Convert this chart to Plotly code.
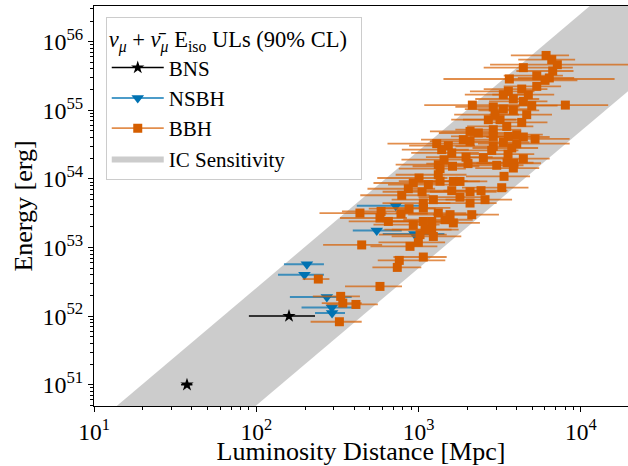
import plotly.graph_objects as go

# ---------------- data ----------------
bns_dist = [37.4, 159]
bns_err_lo = [3, 69]
bns_err_hi = [3, 71]
bns_energy = [1.0e51, 1.0e52]

nsbh_dist = [723, 552, 942, 205, 198, 272, 292, 293]
nsbh_err_lo = [307, 159, 341, 57, 62, 111, 102, 63]
nsbh_err_hi = [420, 235, 500, 56, 63, 115, 143, 59]
nsbh_energy = [4.06e53, 1.77e53, 1.57e53, 5.68e52, 4.0e52, 1.9e52, 1.34e52, 1.11e52]

bbh_dist = [
    6100, 6610, 7155, 4417, 6700, 5345, 6386, 6010, 3622, 5345,
    4318, 3571, 3326, 4743, 3833, 4417, 4977, 8017, 2143, 2884,
    3326, 3833, 4634, 2956, 2688, 3174, 4318, 3490, 2884, 2074,
    2333, 4022, 2884, 3571, 4417, 5214, 1885, 2074, 3326, 4022,
    1293, 1524, 2884, 3748, 1388, 2821, 1600, 3556, 4417, 1959,
    2505, 1434, 3506, 3871, 1322, 2015, 3028, 1618, 1355, 3833,
    1322, 3359, 1006, 1636, 1799, 1355, 927, 1148, 3251, 864,
    1050, 1600, 2424, 2074, 787, 1799, 2565, 2074, 1232, 1069,
    587, 779, 873, 1069, 1322, 1562, 2125, 651, 578, 435,
    927, 1069, 1204, 1455, 1636, 1095, 1204, 1232, 1020, 996,
    885, 1069, 760, 739, 578, 446, 241, 331, 341, 411, 325,
]
bbh_err_lo = [
    2400, 2500, 4400, 1900, 2700, 2000, 2300, 2500, 2200, 2000,
    1800, 1500, 1400, 1900, 1600, 1700, 2000, 3200, 1060, 1200,
    1400, 1500, 1900, 1300, 1100, 1300, 1700, 1500, 1200, 900,
    1000, 1600, 1300, 1500, 1800, 2000, 850, 900, 1400, 1700,
    650, 650, 1200, 1600, 600, 1200, 700, 1500, 1800, 850,
    1100, 650, 1500, 1600, 600, 900, 1300, 700, 600, 1600,
    600, 1400, 450, 700, 800, 600, 400, 500, 1400, 380,
    450, 700, 1000, 900, 350, 800, 1100, 900, 550, 470,
    250, 340, 380, 470, 600, 700, 900, 280, 250, 190,
    400, 470, 520, 650, 700, 480, 520, 550, 450, 430,
    380, 370, 200, 220, 226, 188, 48, 108, 88, 140, 109,
]
bbh_err_hi = [
    2350, 2600, 14000, 4500, 2300, 2400, 2700, 3500, 12500, 2200,
    1900, 1600, 1500, 2100, 1700, 1800, 2200, 6700, 2900, 1300,
    1500, 1700, 2000, 1200, 1300, 1400, 1900, 1600, 1400, 950,
    1100, 1800, 1400, 1600, 2000, 3300, 900, 1000, 1500, 4500,
    900, 700, 1300, 1700, 650, 1300, 750, 1600, 2000, 900,
    1200, 700, 1600, 1800, 650, 950, 1400, 750, 600, 1700,
    650, 1500, 500, 750, 850, 650, 420, 550, 1500, 400,
    500, 750, 1100, 950, 380, 850, 1200, 950, 600, 500,
    270, 360, 400, 500, 650, 750, 1000, 300, 270, 200,
    420, 500, 560, 700, 750, 500, 560, 600, 470, 460,
    420, 420, 700, 300, 212, 150, 41, 104, 105, 150, 121,
]
bbh_energy = [
    6.3e55, 5.47e55, 4.62e55, 4.18e55, 3.74e55, 3.19e55, 2.96e55, 2.73e55, 2.86e55, 2.23e55,
    2.04e55, 1.89e55, 1.69e55, 1.69e55, 1.46e55, 1.35e55, 1.17e55, 1.19e55, 1.19e55, 1.12e55,
    1.04e55, 9.97e54, 8.63e54, 8.63e54, 7.29e54, 7.29e54, 6.66e54, 5.82e54, 5.21e54, 4.92e54,
    4.67e54, 4.41e54, 4.16e54, 4.16e54, 4.08e54, 3.82e54, 3.73e54, 3.52e54, 3.40e54, 3.26e54,
    3.26e54, 3.05e54, 2.98e54, 2.82e54, 2.67e54, 2.60e54, 2.39e54, 2.29e54, 1.97e54, 2.07e54,
    2.04e54, 1.905e54, 1.72e54, 1.69e54, 1.61e54, 1.67e54, 1.58e54, 1.53e54, 1.41e54, 1.44e54,
    1.15e54, 1.09e54, 1.03e54, 9.19e53, 9.19e53, 9.25e53, 8.71e53, 8.23e53, 7.44e53, 7.19e53,
    6.50e53, 6.73e53, 6.73e53, 6.50e53, 5.78e53, 5.41e53, 4.98e53, 4.45e53, 4.98e53, 4.45e53,
    3.36e53, 3.11e53, 3.68e53, 3.77e53, 3.18e53, 3.01e53, 3.01e53, 2.40e53, 2.69e53, 3.18e53,
    2.15e53, 2.40e53, 2.40e53, 2.54e53, 2.28e53, 1.82e53, 1.82e53, 1.45e53, 1.54e53, 1.19e53,
    1.04e53, 7.27e52, 6.49e52, 5.13e52, 2.71e52, 1.09e53, 3.47e52, 1.94e52, 1.55e52, 1.48e52, 8.28e51,
]

# IceCube sensitivity band (edges at the axis limits)
band_dist = [10, 20000]
band_upper = [2.57e50, 1.03e57]
band_lower = [5.0e48, 2.0e55]

x_tickvals = [1e1, 1e2, 1e3, 1e4]
x_ticktext = ["10<sup>1</sup>", "10<sup>2</sup>", "10<sup>3</sup>", "10<sup>4</sup>"]
y_tickvals = [1e51, 1e52, 1e53, 1e54, 1e55, 1e56]
y_ticktext = ["10<sup>51</sup>", "10<sup>52</sup>", "10<sup>53</sup>",
              "10<sup>54</sup>", "10<sup>55</sup>", "10<sup>56</sup>"]

# ---------------- style ----------------
FONT = "'Liberation Serif', 'Times New Roman', 'DejaVu Serif', serif"
BLACK = "#000000"
BLUE = "#0072B2"
BLUE_EB = "rgba(0,114,178,0.7)"
ORANGE = "#D55E00"
ORANGE_EB = "rgba(213,94,0,0.7)"
GRAY = "#cccccc"

fig = go.Figure()

# sensitivity band
fig.add_trace(go.Scatter(
    x=band_dist + band_dist[::-1],
    y=band_upper + band_lower[::-1],
    mode="lines", fill="toself", fillcolor=GRAY,
    line=dict(width=0, color=GRAY),
    name="IC Sensitivity", legendrank=4, hoverinfo="skip",
))

def add_series(dist, energy, lo, hi, color, ebcolor, symbol, size, name, rank, ebw):
    fig.add_trace(go.Scatter(
        x=dist, y=energy, mode="markers",
        marker=dict(symbol=symbol, size=size, color=color, line=dict(width=0)),
        error_x=dict(type="data", symmetric=False, array=hi, arrayminus=lo,
                     color=ebcolor, thickness=ebw, width=0),
        showlegend=False, name=name,
    ))
    fig.add_trace(go.Scatter(
        x=[None], y=[None], mode="lines+markers",
        marker=dict(symbol=symbol, size=size, color=color, line=dict(width=0)),
        line=dict(color=ebcolor, width=ebw),
        name=name, legendrank=rank,
    ))

add_series(bns_dist, bns_energy, bns_err_lo, bns_err_hi, BLACK, BLACK,
           "star", 10, "BNS", 1, 1.5)
add_series(nsbh_dist, nsbh_energy, nsbh_err_lo, nsbh_err_hi, BLUE, BLUE_EB,
           "triangle-down", 11, "NSBH", 2, 2)
add_series(bbh_dist, bbh_energy, bbh_err_lo, bbh_err_hi, ORANGE, ORANGE_EB,
           "square", 9, "BBH", 3, 1.8)

minor_x = [m * 10.0 ** e for e in range(1, 5) for m in range(2, 10)]
minor_y = [m * 10.0 ** e for e in range(50, 57) for m in range(2, 10)]

fig.update_layout(
    width=628, height=466,
    margin=dict(l=94, r=0, t=6, b=60),
    paper_bgcolor="white", plot_bgcolor="white",
    font=dict(family=FONT, size=22, color="black"),
    showlegend=True,
    legend=dict(
        x=0.022, y=0.972, xanchor="left", yanchor="top",
        bgcolor="rgba(255,255,255,0.85)", bordercolor="#cccccc", borderwidth=1,
        font=dict(family=FONT, size=21),
        title=dict(text="<i>ν</i><sub><i>μ</i></sub> + <i>ν̄</i><sub><i>μ</i></sub> E<sub>iso</sub> ULs (90% CL)\u00a0\u00a0",
                   font=dict(family=FONT, size=22.5)),
        traceorder="normal",
        itemwidth=52,
    ),
    xaxis=dict(
        type="log", range=[1, 4.29],
        tickmode="array", tickvals=x_tickvals, ticktext=x_ticktext,
        ticks="outside", ticklen=5, tickwidth=1, tickcolor="black",
        minor=dict(tickmode="array", tickvals=minor_x, ticks="outside",
                   ticklen=3, tickwidth=1, tickcolor="black", showgrid=False),
        showline=True, linecolor="black", linewidth=1, mirror=True,
        showgrid=False, zeroline=False,
        tickfont=dict(family=FONT, size=23.5),
        title=dict(text="Luminosity Distance [Mpc]", font=dict(family=FONT, size=26), standoff=3),
    ),
    yaxis=dict(
        type="log", range=[50.69, 56.52],
        tickmode="array", tickvals=y_tickvals, ticktext=y_ticktext,
        ticks="outside", ticklen=5, tickwidth=1, tickcolor="black",
        minor=dict(tickmode="array", tickvals=minor_y, ticks="outside",
                   ticklen=3, tickwidth=1, tickcolor="black", showgrid=False),
        showline=True, linecolor="black", linewidth=1, mirror=False,
        showgrid=False, zeroline=False,
        tickfont=dict(family=FONT, size=24),
        title=dict(text="Energy [erg]", font=dict(family=FONT, size=26), standoff=2),
    ),
)

fig.write_html("out.html")
